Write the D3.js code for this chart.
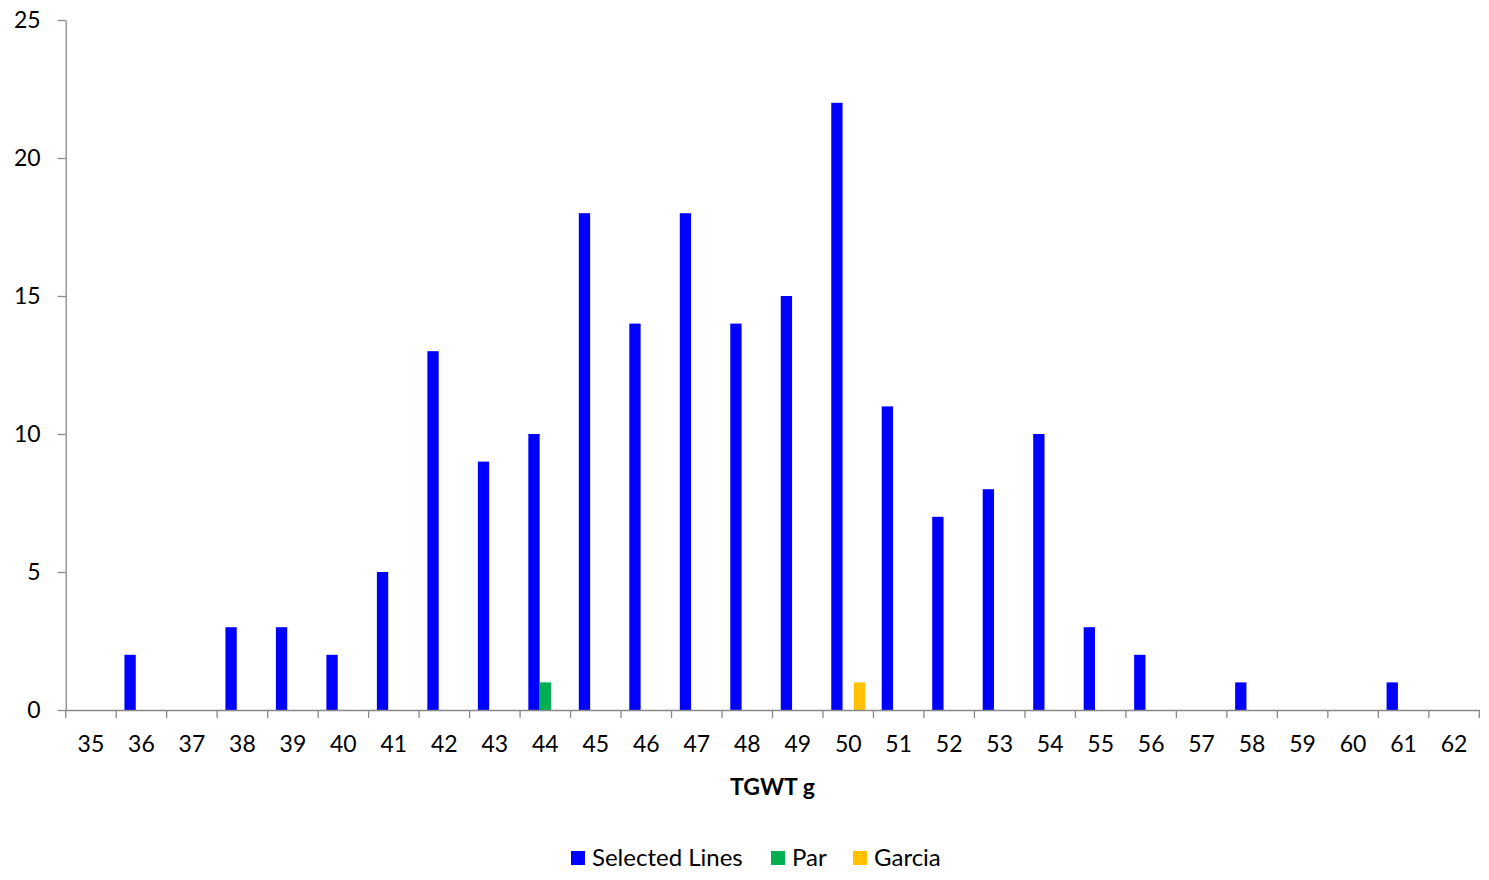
<!DOCTYPE html>
<html><head><meta charset="utf-8">
<script src="https://cdn.jsdelivr.net/npm/d3@7"></script>
<style>body{margin:0;background:#fff}svg{display:block}text{font-family:Lato,"Open Sans",sans-serif;fill:#000}</style>
</head><body>
<svg id="c" width="1489" height="880"></svg>
<script>
const categories = ["35","36","37","38","39","40","41","42","43","44","45","46","47","48","49","50","51","52","53","54","55","56","57","58","59","60","61","62"];
const seriesNames = ["Selected Lines","Par","Garcia"];
const selectedLines = [0,2,0,3,3,2,5,13,9,10,18,14,18,14,15,22,11,7,8,10,3,2,0,1,0,0,1,0];
const par =           [0,0,0,0,0,0,0,0,0,1,0,0,0,0,0,0,0,0,0,0,0,0,0,0,0,0,0,0];
const garcia =        [0,0,0,0,0,0,0,0,0,0,0,0,0,0,0,1,0,0,0,0,0,0,0,0,0,0,0,0];
const colors = ["#0000FF","#00B050","#FFC000"];
const yTicks = [0,5,10,15,20,25];
const xTitle = "TGWT g";

const svg = d3.select("#c");
const L = 65.7, R = 1479.3, T = 20, B = 710;
const x = d3.scaleBand().domain(categories).range([L, R]).padding(0);
const x1 = d3.scaleBand().domain(seriesNames).range([0, x.bandwidth()]).paddingInner(0).paddingOuter(0.73);
const y = d3.scaleLinear().domain([0,25]).range([B, T]);
const data = [selectedLines, par, garcia];

const g = svg.append("g");
seriesNames.forEach((s, si) => {
  g.selectAll(null).data(categories.map((c,i)=>({c, v:data[si][i]})).filter(d=>d.v>0))
    .enter().append("rect")
    .attr("x", d => x(d.c) + x1(s))
    .attr("width", x1.bandwidth())
    .attr("y", d => y(d.v))
    .attr("height", d => y(0) - y(d.v))
    .attr("fill", colors[si]);
});

// y axis
const ya = svg.append("g").attr("transform", `translate(${L},0)`)
  .call(d3.axisLeft(y).tickValues(yTicks).tickSize(8).tickPadding(17).tickSizeOuter(0));
ya.select(".domain").attr("stroke", "#888").attr("stroke-width", 1.3);
ya.selectAll(".tick line").attr("stroke", "#888").attr("stroke-width", 1.3);
ya.selectAll("text").style("font-size", "23px").attr("fill", "#000");

// x axis
const xa = svg.append("g").attr("transform", `translate(0,${B})`)
  .call(d3.axisBottom(x).tickSize(0).tickPadding(26).tickSizeOuter(0));
xa.select(".domain").attr("stroke", "#888").attr("stroke-width", 1.3);
xa.selectAll("text").style("font-size", "23px").attr("fill", "#000");
// boundary ticks
const bounds = categories.map(c => x(c)).concat([R]);
xa.selectAll(".bt").data(bounds).enter().append("line")
  .attr("x1", d => d).attr("x2", d => d).attr("y1", 0).attr("y2", 8)
  .attr("stroke", "#888").attr("stroke-width", 1.3);

svg.append("text").attr("x", (L+R)/2).attr("y", 795).attr("text-anchor","middle")
  .style("font-size","23px").style("font-weight","bold").text(xTitle);

// legend
const legX = [571, 771, 853];
seriesNames.forEach((s, i) => {
  svg.append("rect").attr("x", legX[i]).attr("y", 851).attr("width", 14).attr("height", 14).attr("fill", colors[i]);
  svg.append("text").attr("x", legX[i] + 21).attr("y", 866).style("font-size","24px").text(s);
});
</script>
</body></html>
